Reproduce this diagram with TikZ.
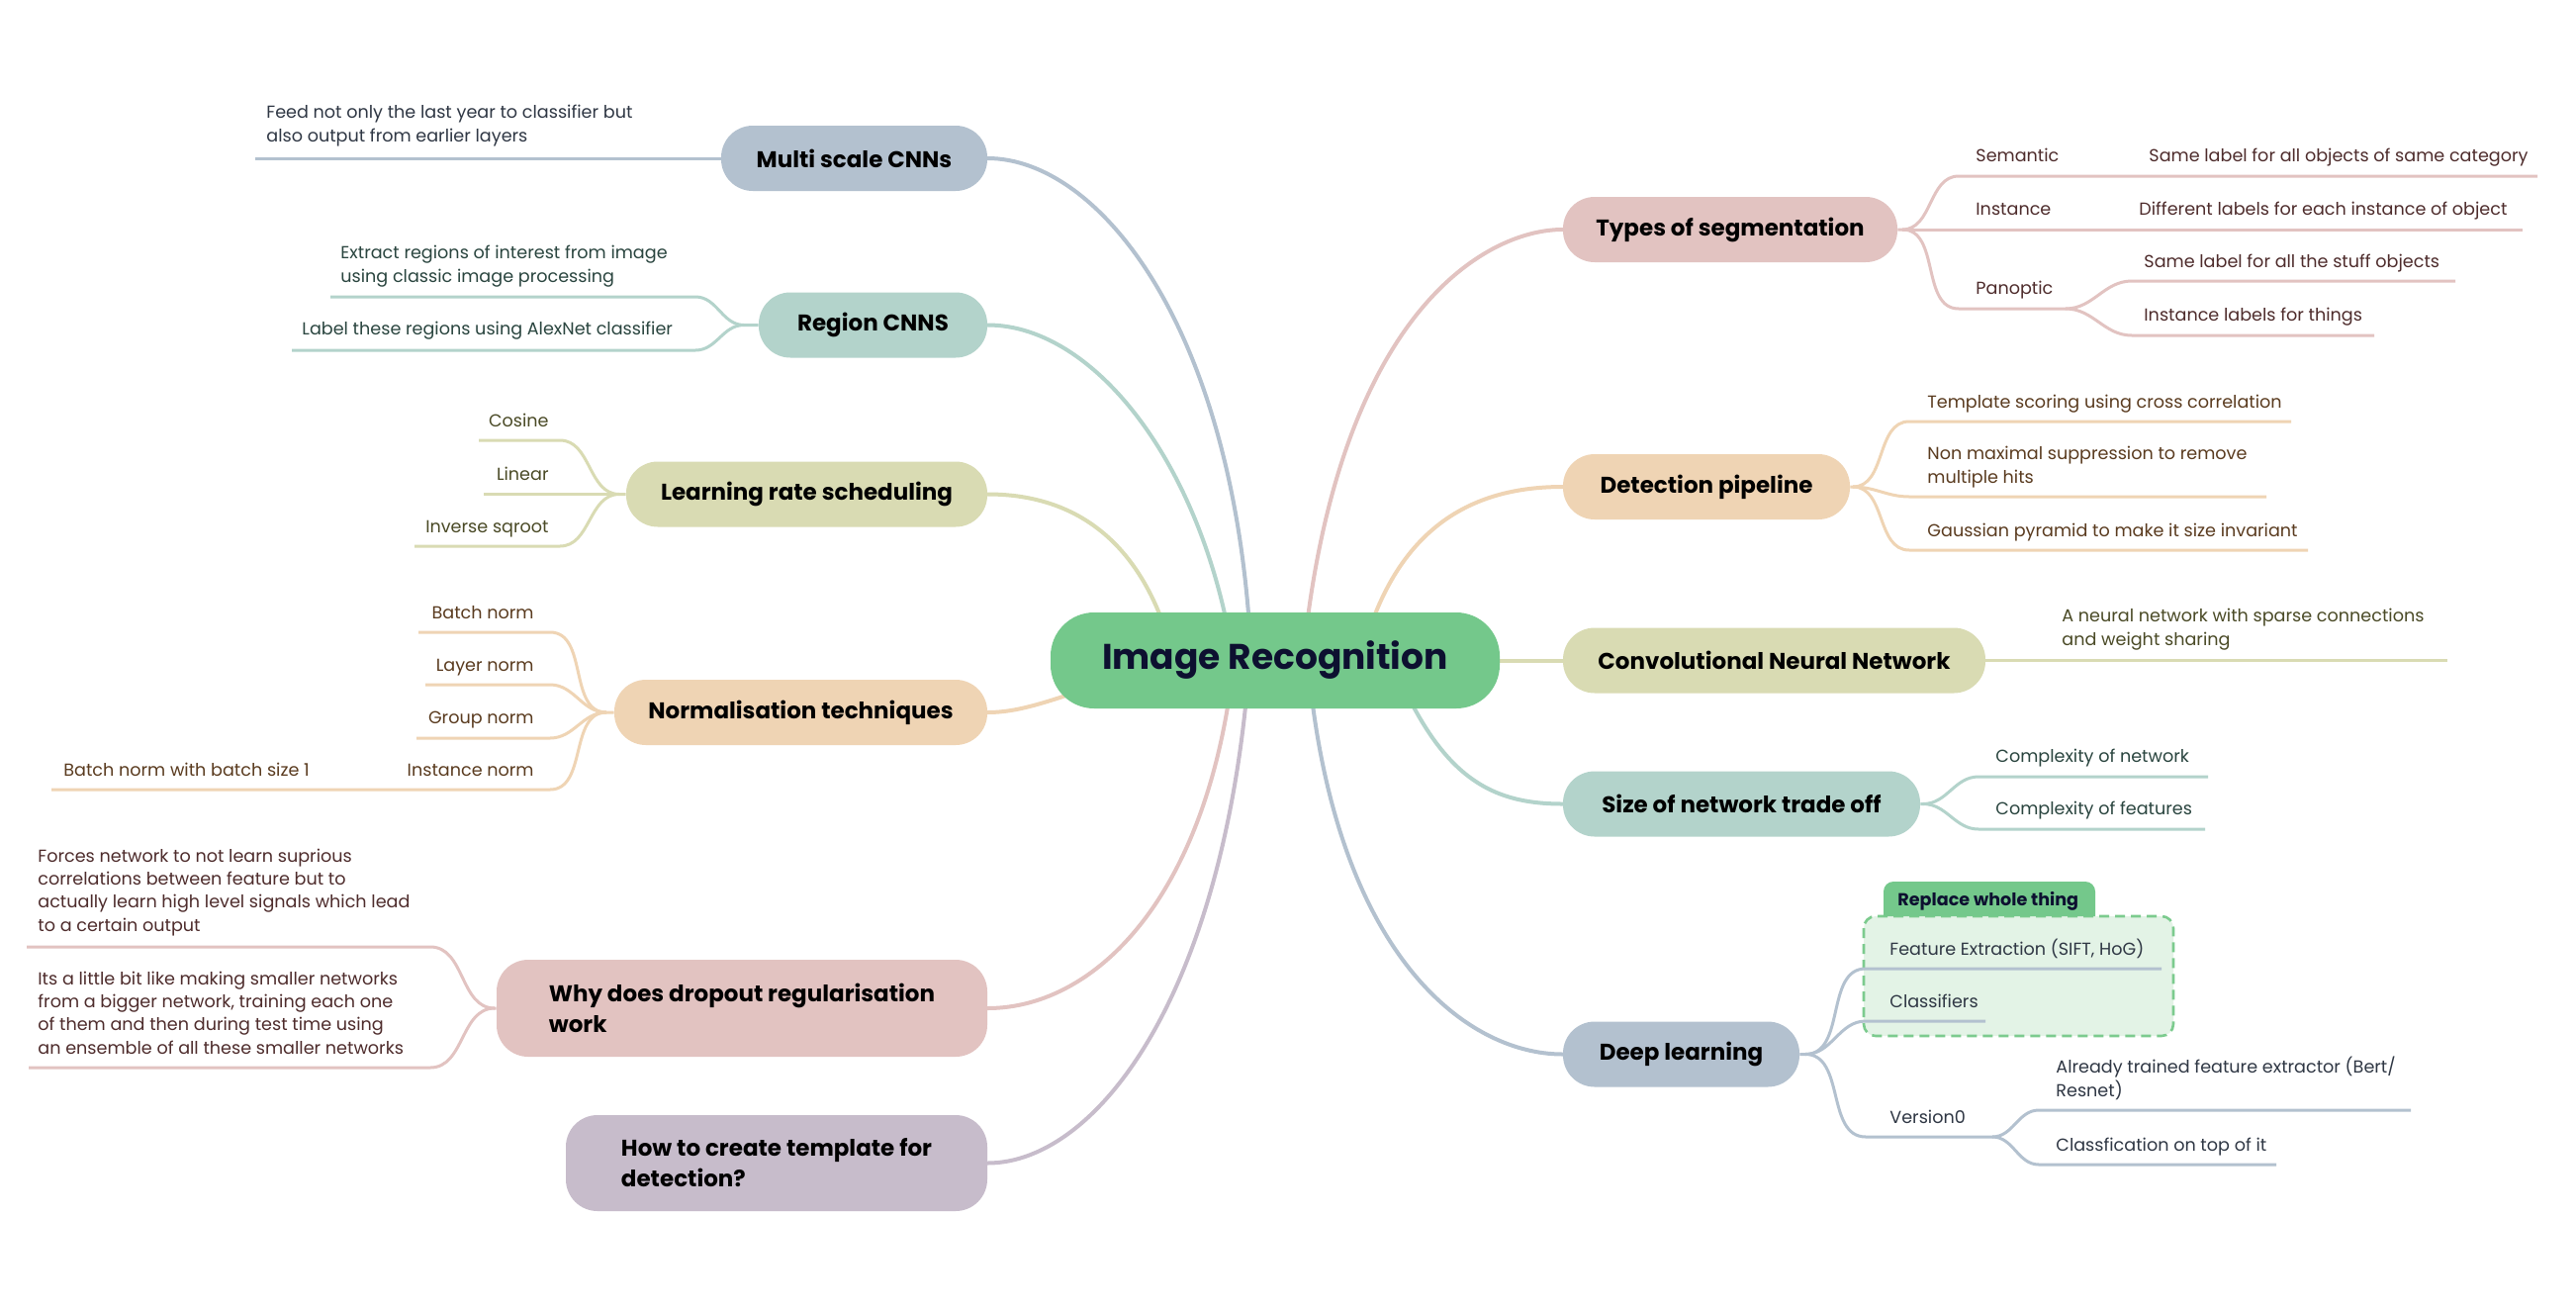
\documentclass[tikz,border=0pt]{standalone}
\usepackage{fontspec}
\setmainfont{Poppins}
\usetikzlibrary{backgrounds}
\definecolor{cBlue}{HTML}{B3C1CF}
\definecolor{cTeal}{HTML}{B3D3CB}
\definecolor{cOlive}{HTML}{D9DBB3}
\definecolor{cOrange}{HTML}{EFD4B4}
\definecolor{cPink}{HTML}{E2C3C1}
\definecolor{cPurple}{HTML}{C7BCCB}
\definecolor{cGreen}{HTML}{74C88B}
\definecolor{boxFill}{HTML}{E3F3E6}
\definecolor{boxLine}{HTML}{7CCB8E}
\definecolor{tBlue}{HTML}{2F3744}
\definecolor{tTeal}{HTML}{2A453F}
\definecolor{tOlive}{HTML}{4A4A26}
\definecolor{tOrange}{HTML}{5A3B1F}
\definecolor{tPink}{HTML}{4E2C2C}
\definecolor{tNavy}{HTML}{0D1030}
\newcommand\ctfont{\fontsize{8.8pt}{11.6pt}\selectfont}
\newcommand\mnfont{\fontsize{11.5pt}{15.5pt}\selectfont\bfseries}
\begin{document}
\begin{tikzpicture}[x=0.5pt,y=-0.5pt,
  mn/.style={rounded corners=16pt, minimum height=33pt, inner sep=0pt, font=\mnfont, text=black, align=left},
  cn/.style={rounded corners=22pt, fill=cGreen, minimum width=227pt, minimum height=48.5pt, inner sep=0pt, font=\fontsize{18pt}{22pt}\selectfont\bfseries, text=tNavy},
  ctl/.style={inner sep=0pt, anchor=base west, font=\ctfont, align=left},
  ctr/.style={inner sep=0pt, anchor=base east, font=\ctfont, align=right},
  mc/.style={draw=#1, line width=2pt, line cap=round},
  cl/.style={draw=#1, line width=1.5pt},
]
\useasboundingbox (0,0) rectangle (2604,1324);

% ---------- root and main nodes ----------
\node[cn] (root) at (1289,667.5) {Image Recognition};
\node[mn, fill=cBlue, minimum width=134.5pt] (ms) at (863.5,160) {Multi scale CNNs};
\node[mn, fill=cTeal, minimum width=115.5pt] (rc) at (882.5,328.5) {Region CNNS};
\node[mn, fill=cOlive, minimum width=182.5pt] (lr) at (815.5,499.5) {Learning rate scheduling};
\node[mn, fill=cOrange, minimum width=188.5pt] (nt) at (809.5,720) {Normalisation techniques};
\node[mn, fill=cPink, minimum width=248pt, minimum height=49pt] (dr) at (750,1019) {Why does dropout regularisation\\work};
\node[mn, fill=cPurple, minimum width=213pt, minimum height=48.5pt] (ht) at (785,1175.5) {How to create template for\\detection?};
\node[mn, fill=cPink, minimum width=169pt] (ts) at (1749,232) {Types of segmentation};
\node[mn, fill=cOrange, minimum width=145pt] (dp) at (1725,492) {Detection pipeline};
\node[mn, fill=cOlive, minimum width=213.5pt] (cnn) at (1793.5,667.5) {Convolutional Neural Network};
\node[mn, fill=cTeal, minimum width=180.5pt] (sn) at (1760.5,812.5) {Size of network trade off};
\node[mn, fill=cBlue, minimum width=119.5pt] (dl) at (1699.5,1065.5) {Deep learning};

% ---------- start points of main connectors (hidden under root) ----------
\coordinate (sMs) at (1265,667);
\coordinate (sRc) at (1250,690);
\coordinate (sLr) at (1190,680);
\coordinate (sNt) at (1150,680);
\coordinate (sDr) at (1250,640);
\coordinate (sHt) at (1265,640);
\coordinate (sTs) at (1315,690);
\coordinate (sDp) at (1370,690);
\coordinate (sSn) at (1400,650);
\coordinate (sDl) at (1320,640);

\begin{scope}[on background layer]
\fill[white] (0,0) rectangle (2604,1324);
% dashed group box (Deep learning)
\draw[fill=boxFill, draw=boxLine, line width=1.3pt, dash pattern=on 5pt off 3pt, rounded corners=6pt] (1884,926) rectangle (2197,1047);
\fill[cGreen] (1904,926) [rounded corners=5pt] -- (1904,891) -- (2118,891) [sharp corners] -- (2118,926) -- cycle;
% main connectors
\draw[mc=cBlue] (sMs) .. controls (1250,330) and (1110,160) .. (ms.east);
\draw[mc=cTeal] (sRc) .. controls (1225,480) and (1110,328.5) .. (rc.east);
\draw[mc=cOlive] (sLr) .. controls (1160,540) and (1080,499.5) .. (lr.east);
\draw[mc=cOrange] (sNt) .. controls (1080,700) and (1040,720) .. (nt.east);
\draw[mc=cPink] (sDr) .. controls (1230,900) and (1110,1019) .. (dr.east);
\draw[mc=cPurple] (sHt) .. controls (1245,1000) and (1110,1175.5) .. (ht.east);
\draw[mc=cPink] (sTs) .. controls (1345,320) and (1500,232) .. (ts.west);
\draw[mc=cOrange] (sDp) .. controls (1400,540) and (1480,492) .. (dp.west);
\draw[mc=cTeal] (sSn) .. controls (1450,780) and (1500,812.5) .. (sn.west);
\draw[mc=cBlue] (sDl) .. controls (1340,960) and (1480,1065.5) .. (dl.west);
\draw[mc=cOlive] (root.east) -- (cnn.west);
\end{scope}

% ================= LEFT CHILDREN =================
% Multi scale CNNs
\coordinate (ms1L) at (258,160);
\draw[cl=cBlue] (ms.west) -- (ms1L);
\node[ctl, text=tBlue] (ms1) at (269,143) {Feed not only the last year to classifier but\\also output from earlier layers};

% Region CNNS
\coordinate (rcJ) at (752,328.5);
\coordinate (rc1R) at (703,300); \coordinate (rc1L) at (334,300);
\coordinate (rc2R) at (703,354); \coordinate (rc2L) at (295,354);
\draw[cl=cTeal] (rc.west) -- (rcJ) to[out=180,in=0] (rc1R) -- (rc1L);
\draw[cl=cTeal] (rcJ) to[out=180,in=0] (rc2R) -- (rc2L);
\node[ctl, text=tTeal] (rc1) at (344,285) {Extract regions of interest from image\\using classic image processing};
\node[ctl, text=tTeal] (rc2) at (305,338) {Label these regions using AlexNet classifier};

% Learning rate scheduling
\coordinate (lrJ) at (626,499.5);
\coordinate (lr1R) at (566,445); \coordinate (lr1L) at (484,445);
\coordinate (lr2L) at (489,499.5);
\coordinate (lr3R) at (566,552); \coordinate (lr3L) at (419,552);
\draw[cl=cOlive] (lr.west) -- (lrJ) to[out=180,in=0] (lr1R) -- (lr1L);
\draw[cl=cOlive] (lrJ) -- (lr2L);
\draw[cl=cOlive] (lrJ) to[out=180,in=0] (lr3R) -- (lr3L);
\node[ctr, text=tOlive] (lr1) at (555,431) {Cosine};
\node[ctr, text=tOlive] (lr2) at (555,485) {Linear};
\node[ctr, text=tOlive] (lr3) at (555,538) {Inverse sqroot};

% Normalisation techniques
\coordinate (ntJ) at (613,720);
\coordinate (nt1R) at (556,639); \coordinate (nt1L) at (423,639);
\coordinate (nt2R) at (556,692); \coordinate (nt2L) at (430,692);
\coordinate (nt3R) at (556,746); \coordinate (nt3L) at (421,746);
\coordinate (nt4R) at (556,798); \coordinate (nt4L) at (332,798);
\coordinate (nt5L) at (52,798);
\draw[cl=cOrange] (nt.west) -- (ntJ) to[out=180,in=0] (nt1R) -- (nt1L);
\draw[cl=cOrange] (ntJ) to[out=180,in=0] (nt2R) -- (nt2L);
\draw[cl=cOrange] (ntJ) to[out=180,in=0] (nt3R) -- (nt3L);
\draw[cl=cOrange] (ntJ) to[out=180,in=0] (nt4R) -- (nt4L) -- (nt5L);
\node[ctr, text=tOrange] (nt1) at (540,625) {Batch norm};
\node[ctr, text=tOrange] (nt2) at (540,678) {Layer norm};
\node[ctr, text=tOrange] (nt3) at (540,731) {Group norm};
\node[ctr, text=tOrange] (nt4) at (540,784) {Instance norm};
\node[ctl, text=tOrange] (nt5) at (64,784) {Batch norm with batch size 1};

% Why does dropout regularisation work
\coordinate (drJ) at (500,1019);
\coordinate (dr1R) at (435,957); \coordinate (dr1L) at (27,957);
\coordinate (dr2R) at (435,1079); \coordinate (dr2L) at (29,1079);
\draw[cl=cPink] (dr.west) -- (drJ) to[out=180,in=0] (dr1R) -- (dr1L);
\draw[cl=cPink] (drJ) to[out=180,in=0] (dr2R) -- (dr2L);
\node[ctl, text=tPink] (dr1) at (38,941) {Forces network to not learn suprious\\correlations between feature but to\\actually learn high level signals which lead\\to a certain output};
\node[ctl, text=tPink] (dr2) at (38,1065) {Its a little bit like making smaller networks\\from a bigger network, training each one\\of them and then during test time using\\an ensemble of all these smaller networks};

% ================= RIGHT CHILDREN =================
% Types of segmentation
\coordinate (tsJ) at (1923,232);
\coordinate (ts1S) at (1980,178); \coordinate (ts1E) at (2158,178); \coordinate (ts1aE) at (2565,178);
\coordinate (ts2E) at (2158,232); \coordinate (ts2aE) at (2550,232);
\coordinate (ts3S) at (1980,312); \coordinate (ts3E) at (2088,312);
\coordinate (ts3aS) at (2155,284); \coordinate (ts3aE) at (2482,284);
\coordinate (ts3bS) at (2155,339); \coordinate (ts3bE) at (2400,339);
\draw[cl=cPink] (ts.east) -- (tsJ) to[out=0,in=180] (ts1S) -- (ts1E) -- (ts1aE);
\draw[cl=cPink] (tsJ) -- (ts2E) -- (ts2aE);
\draw[cl=cPink] (tsJ) to[out=0,in=180] (ts3S) -- (ts3E);
\draw[cl=cPink] (ts3E) to[out=0,in=180] (ts3aS) -- (ts3aE);
\draw[cl=cPink] (ts3E) to[out=0,in=180] (ts3bS) -- (ts3bE);
\node[ctl, text=tPink] (ts1) at (1997,163) {Semantic};
\node[ctl, text=tPink] (ts1a) at (2172,163) {Same label for all objects of same category};
\node[ctl, text=tPink] (ts2) at (1997,217) {Instance};
\node[ctl, text=tPink] (ts2a) at (2162,217) {Different labels for each instance of object};
\node[ctl, text=tPink] (ts3) at (1997,297) {Panoptic};
\node[ctl, text=tPink] (ts3a) at (2167,270) {Same label for all the stuff objects};
\node[ctl, text=tPink] (ts3b) at (2167,324) {Instance labels for things};

% Detection pipeline
\coordinate (dpJ) at (1873,492);
\coordinate (dp1S) at (1930,426); \coordinate (dp1E) at (2316,426);
\coordinate (dp2S) at (1930,502); \coordinate (dp2E) at (2291,502);
\coordinate (dp3S) at (1930,556); \coordinate (dp3E) at (2333,556);
\draw[cl=cOrange] (dp.east) -- (dpJ) to[out=0,in=180] (dp1S) -- (dp1E);
\draw[cl=cOrange] (dpJ) to[out=0,in=180] (dp2S) -- (dp2E);
\draw[cl=cOrange] (dpJ) to[out=0,in=180] (dp3S) -- (dp3E);
\node[ctl, text=tOrange] (dp1) at (1948,412) {Template scoring using cross correlation};
\node[ctl, text=tOrange] (dp2) at (1948,488) {Non maximal suppression to remove\\multiple hits};
\node[ctl, text=tOrange] (dp3) at (1948,542) {Gaussian pyramid to make it size invariant};

% Convolutional Neural Network
\coordinate (cnn1E) at (2474,667.5);
\draw[cl=cOlive] (cnn.east) -- (cnn1E);
\node[ctl, text=tOlive] (cnn1) at (2084,652) {A neural network with sparse connections\\and weight sharing};

% Size of network trade off
\coordinate (snJ) at (1944,812.5);
\coordinate (sn1S) at (2000,785); \coordinate (sn1E) at (2232,785);
\coordinate (sn2S) at (2000,838); \coordinate (sn2E) at (2229,838);
\draw[cl=cTeal] (sn.east) -- (snJ) to[out=0,in=180] (sn1S) -- (sn1E);
\draw[cl=cTeal] (snJ) to[out=0,in=180] (sn2S) -- (sn2E);
\node[ctl, text=tTeal] (sn1) at (2017,770) {Complexity of network};
\node[ctl, text=tTeal] (sn2) at (2017,823) {Complexity of features};

% Deep learning
\coordinate (dlJ) at (1825,1065.5);
\coordinate (dl1S) at (1886,979); \coordinate (dl1E) at (2185,979);
\coordinate (dl2S) at (1886,1032); \coordinate (dl2E) at (2007,1032);
\coordinate (dl3S) at (1886,1149); \coordinate (dl3E) at (2014,1149);
\coordinate (dl3aS) at (2061,1122); \coordinate (dl3aE) at (2437,1122);
\coordinate (dl3bS) at (2061,1177); \coordinate (dl3bE) at (2301,1177);
\draw[cl=cBlue] (dl.east) -- (dlJ) to[out=0,in=180] (dl1S) -- (dl1E);
\draw[cl=cBlue] (dlJ) to[out=0,in=180] (dl2S) -- (dl2E);
\draw[cl=cBlue] (dlJ) to[out=0,in=180] (dl3S) -- (dl3E);
\draw[cl=cBlue] (dl3E) to[out=0,in=180] (dl3aS) -- (dl3aE);
\draw[cl=cBlue] (dl3E) to[out=0,in=180] (dl3bS) -- (dl3bE);
\node[ctl, text=tBlue] (dl1) at (1910,965) {Feature Extraction (SIFT, HoG)};
\node[ctl, text=tBlue] (dl2) at (1910,1018) {Classifiers};
\node[ctl, text=tBlue] (dl3) at (1910,1135) {Version0};
\node[ctl, text=tBlue] (dl3a) at (2078,1108) {Already trained feature extractor (Bert/\\Resnet)};
\node[ctl, text=tBlue] (dl3b) at (2078,1163) {Classfication on top of it};
\node[ctl, text=tNavy, font=\ctfont\bfseries] (rwt) at (1918,915) {Replace whole thing};
\end{tikzpicture}
\end{document}
